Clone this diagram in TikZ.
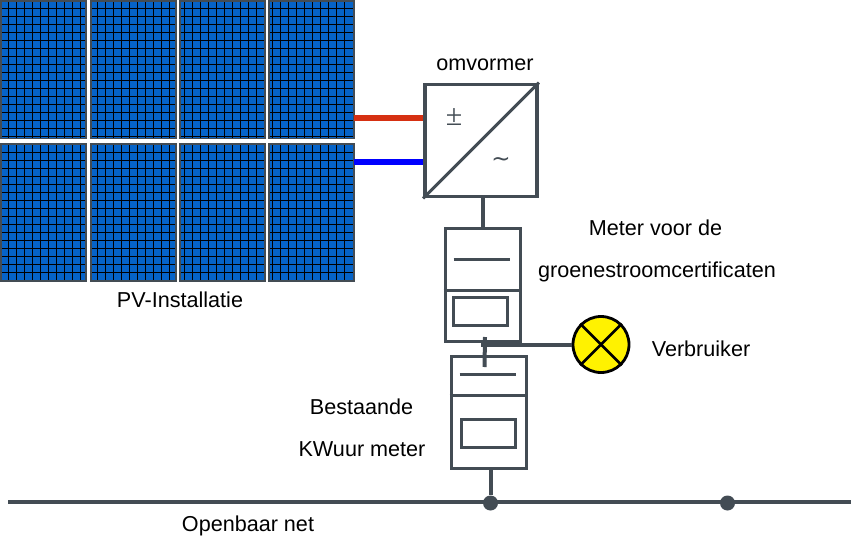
\documentclass[tikz,border=0pt]{standalone}
\usepackage{fontspec}
\setmainfont{Liberation Sans}
\newfontfamily\symfont{DejaVu Sans}
\newfontfamily\pmfont{Liberation Serif}
\definecolor{wire}{HTML}{434C54}
\definecolor{cell}{HTML}{0563C8}
\definecolor{redw}{HTML}{D63012}
\tikzset{
  x=1pt,y=-1pt,
  wireline/.style={draw=wire,line width=4pt},
  innerline/.style={draw=wire,line width=3pt},
  thinbox/.style={draw=wire,line width=3pt,fill=none},
  label/.style={font=\fontsize{21.6}{24}\selectfont,text=black,inner sep=0pt,anchor=center},
  joint/.style={circle,fill=wire,minimum size=15pt,inner sep=0pt},
  sym/.style={inner sep=0pt,text=wire},
  gridline/.style={black,line width=1.2pt},
}
% #1 left, #2 top, #3 height, #4 first vertical line, #5 first horizontal line, #6 number of horizontal lines minus one
\newcommand{\panel}[6]{%
  \fill[cell] (#1,#2) rectangle ++(85,#3);
  \foreach \i in {0,...,9}{\draw[gridline] ({#4+8*\i},#2) -- ++(0,#3);}
  \foreach \j in {0,...,#6}{\draw[gridline] (#1,{#5+8*\j}) -- ++(85,0);}
  \draw[draw=wire,line width=1.1pt] (#1,#2) rectangle ++(85,#3);
}
\begin{document}
\begin{tikzpicture}
\useasboundingbox (0,0) rectangle (852,544);
\foreach \px/\fl in {1/8.5,91/97.2,180/184.5,269/272.5}{
  \panel{\px}{1}{137.5}{\fl}{8.5}{16}
  \panel{\px}{144}{137}{\fl}{152.5}{15}
}
\coordinate (dcp) at (354,118);
\coordinate (dcn) at (354,162);
\node[draw=wire,line width=3.8pt,minimum width=112pt,minimum height=112pt,inner sep=0pt] (inv) at (481,140.5) {};
\draw[redw,line width=6pt] (dcp) -- (inv.west |- dcp);
\draw[blue,line width=6pt] (dcn) -- (inv.west |- dcn);
\draw[innerline] (inv.south west) -- (inv.north east);
\node[sym,font=\pmfont\fontsize{30}{30}\selectfont] (pm) at (454,117) {±};
\node[sym,font=\symfont\fontsize{23}{23}\selectfont] (ac) at (501,162) {∼};
% meter 1
\node[thinbox,minimum width=75pt,minimum height=113pt,inner sep=0pt] (m1) at (482.5,284.5) {};
\node[thinbox,minimum width=54pt,minimum height=28pt,inner sep=0pt] (m1d) at (480.5,311.5) {};
\coordinate (m1l) at (m1.west |- 0,290);
\draw[innerline] (m1l) -- (m1.east |- m1l);
\coordinate (m1a) at (453.5,259.5);
\coordinate (m1b) at (509.5,259.5);
\draw[innerline] (m1a) -- (m1b);
% meter 2
\node[thinbox,minimum width=75pt,minimum height=112pt,inner sep=0pt] (m2) at (488.5,412) {};
\node[thinbox,minimum width=54pt,minimum height=28pt,inner sep=0pt] (m2d) at (488.5,433.5) {};
\coordinate (m2l) at (m2.west |- 0,395);
\draw[innerline] (m2l) -- (m2.east |- m2l);
\coordinate (m2a) at (459.5,374.5);
\coordinate (m2b) at (515.5,374.5);
\draw[innerline] (m2a) -- (m2b);
% connectors
\coordinate (i1) at (483,196);
\coordinate (i2) at (483,230);
\draw[wireline] (i1) -- (i2);
\coordinate (c1) at (485,337);
\coordinate (c2) at (484.5,367);
\draw[wireline] (c1) -- (c2);
\node[circle,draw=black,fill=yellow,line width=2.8pt,minimum size=56pt,inner sep=0pt] (lamp) at (601,344.5) {};
\coordinate (s1) at (481,343.7);
\coordinate (s2) at (521,343.7);
\draw[wireline] (s1 |- lamp.west) -- (lamp.west);
\draw[wireline,line width=6pt] (s1) -- (s2);
\draw[black,line width=2.8pt] (lamp.north west) -- (lamp.south east);
\draw[black,line width=2.8pt] (lamp.north east) -- (lamp.south west);
% bus
\coordinate (b1) at (8,502);
\coordinate (b2) at (851,502);
\draw[wireline] (b1) -- (b2);
\node[joint] (j1) at (490.5,503) {};
\node[joint] (j2) at (727.5,503) {};
\draw[wireline] (m2.south -| j1) -- (j1);
% labels
\node[label] (t1) at (485,65) {omvormer};
\node[label] (t2) at (655.5,228) {Meter voor de};
\node[label] (t3) at (657,272) {groenestroomcertificaten};
\node[label] (t4) at (180,300) {PV-Installatie};
\node[label] (t5) at (701,349) {Verbruiker};
\node[label] (t6) at (361.5,407) {Bestaande};
\node[label] (t7) at (362,449) {KWuur meter};
\node[label] (t8) at (248,526) {Openbaar net};
\end{tikzpicture}
\end{document}
